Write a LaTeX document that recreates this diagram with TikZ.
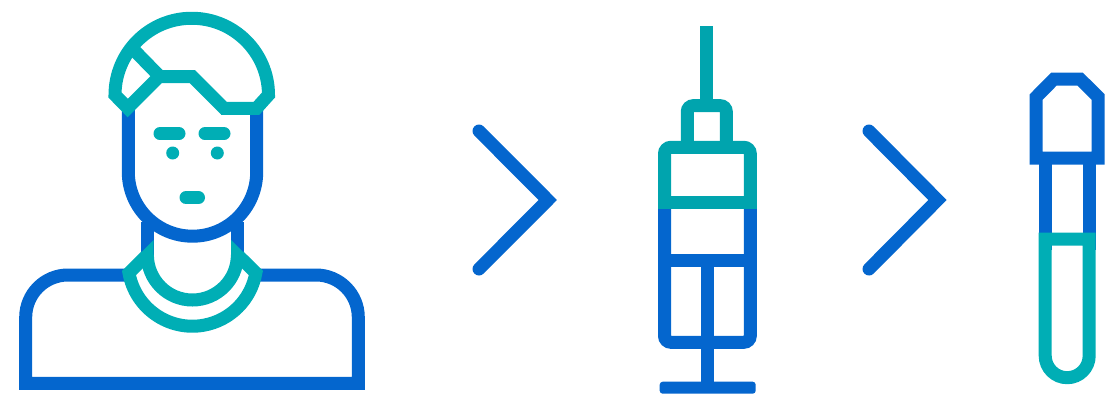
\documentclass[tikz,border=0pt]{standalone}
\definecolor{iconblue}{HTML}{0466CE}
\definecolor{iconteal}{HTML}{00AEB5}
\definecolor{needleteal}{HTML}{00A4AE}
\begin{document}
\begin{tikzpicture}[x=1pt,y=-1pt,
    blueline/.style={draw=iconblue,line width=13pt},
    tealline/.style={draw=iconteal,line width=13pt},
    needleline/.style={draw=needleteal,line width=13pt},
    facemark/.style={draw=iconteal,line width=13pt,line cap=round}]
        \useasboundingbox (0,0) rectangle (1112,405);
        \draw[blueline] (128.3,105) -- (128.3,172) arc[start angle=180,end angle=0,radius=64.2] -- (256.7,105);
        \draw[blueline] (147.4,222) -- (147.4,256);
        \draw[blueline] (237.4,222) -- (237.4,256);
        \draw[blueline] (130,275) -- (68,275) arc[start angle=270,end angle=180,radius=42.3] -- (25.7,383.3) -- (358.3,383.3) -- (358.3,317.3) arc[start angle=0,end angle=-90,radius=42.3] -- (255,275);
        \draw[tealline] (147.4,255) arc[start angle=180,end angle=0,radius=45];
        \fill[iconteal] (153.7,240) -- (141,252.7) -- (141,258) -- (153.7,258) -- cycle;
        \fill[iconteal] (231.1,240) -- (243.8,252.7) -- (243.8,258) -- (231.1,258) -- cycle;
        \draw[tealline] (146,256) -- (129,273) arc[start angle=170,end angle=10,radius=64.4] -- (238.8,256);
        \draw[tealline] (127.7,108) -- (115,95) arc[start angle=180,end angle=360,radius=76.75] -- (256.5,108.3) -- (224,108.3) -- (192.5,76.7) -- (159,76.7) -- cycle;
        \draw[tealline] (132,48) -- (160,76.7);
        \draw[facemark] (160,133.7) -- (179,133.7);
        \draw[facemark] (205,133.7) -- (224,133.7);
        \draw[facemark] (186,197.6) -- (198.5,197.6);
        \fill[iconteal] (172.7,153) circle (6.5);
        \fill[iconteal] (217.3,153) circle (6.5);
        \draw[blueline,line cap=round] (479,131) -- (547.8,200) -- (479,269);
        \draw[blueline,line cap=round] (869,131) -- (937.5,200) -- (869,269);
        \draw[needleline] (706.7,26) -- (706.7,105.7);
        \draw[needleline,rounded corners=6] (687.3,147) -- (687.3,105.7) -- (726.3,105.7) -- (726.3,147);
        \draw[blueline,rounded corners=6.5] (664.5,205) -- (664.5,342.3) -- (750.3,342.3) -- (750.3,205);
        \draw[blueline] (664.5,260.5) -- (750.3,260.5);
        \draw[blueline] (707.7,260.5) -- (707.7,387);
        \fill[iconblue,rounded corners=3] (659.7,381.7) rectangle (755.7,393.7);
        \draw[needleline,rounded corners=6.5] (664.5,208.7) -- (664.5,147.3) -- (750.3,147.3) -- (750.3,208.7);
        \draw[needleline] (658,202) -- (757,202);
        \draw[blueline] (1045.2,158) -- (1045.2,250);
        \draw[blueline] (1089.2,158) -- (1089.2,250);
        \draw[blueline] (1036.2,158) -- (1036.2,97) -- (1054,79) -- (1080,79) -- (1098.2,97) -- (1098.2,158) -- cycle;
        \draw[tealline] (1045.2,239) -- (1045.2,355.7) arc[start angle=180,end angle=0,radius=22] -- (1089.2,239) -- cycle;
    \end{tikzpicture}
\end{document}
